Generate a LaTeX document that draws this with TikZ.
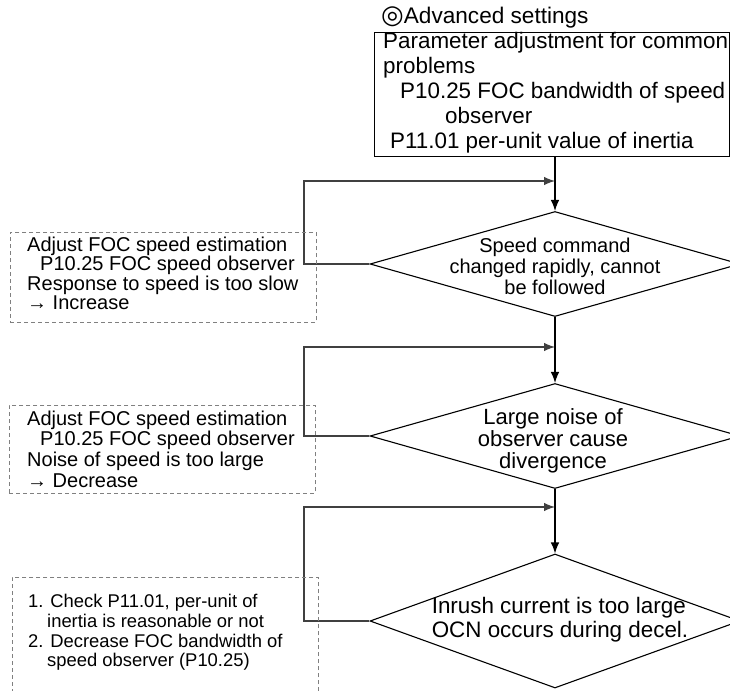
\documentclass[tikz,border=0pt]{standalone}
\usepackage{fontspec}
\setmainfont{Liberation Sans}
\newfontfamily\symfont{DejaVu Sans}
\usetikzlibrary{shapes.geometric,arrows.meta}

\tikzset{
  decision/.style={diamond, draw, line width=1.1pt, minimum width=370pt, inner sep=0pt},
  setbox/.style={draw, line width=1.2pt, minimum width=355pt, minimum height=124pt, anchor=north west, inner sep=0pt},
  hint/.style={draw=black!50, dash pattern=on 4pt off 3pt, line width=0.8pt, minimum width=306pt, anchor=north west, inner sep=0pt},
  txt/.style={inner sep=0pt, align=left, anchor=west},
  flow/.style={->, line width=1.1pt},
  loopline/.style={->, draw=black!75, line width=1.2pt},
}

\begin{document}
\begin{tikzpicture}[x=1pt, y=-1pt, >={Latex[length=11pt,width=8.5pt]}]
    \useasboundingbox (0,0) rectangle (730,690);
    \clip (0,0) rectangle (730,690);
    % Heading and parameter box
    \node[txt, font=\fontsize{22.6}{25}\selectfont] (head) at (381,17) {{\symfont\fontsize{26}{26}\selectfont ◎}Advanced settings};
    \node[setbox] (adv) at (374,32) {};
    \node[txt, anchor=north west, font=\fontsize{22.4}{25}\selectfont] (advtext) at (383,32.5)
        {Parameter adjustment for common\\problems\\\hspace*{17pt}P10.25 FOC bandwidth of speed\\\hspace*{62pt}observer\\\hspace*{7pt}P11.01 per-unit value of inertia};
    % Decisions
    \node[decision, minimum height=105pt] (d1) at (555,264) {};
    \node[decision, minimum height=105pt] (d2) at (555,436) {};
    \node[decision, minimum height=134pt] (d3) at (555,621) {};
    \node[align=center, inner sep=0pt, font=\fontsize{20}{21}\selectfont] (d1text) at (555,266) {Speed command\\changed rapidly, cannot\\be followed};
    \node[align=center, inner sep=0pt, font=\fontsize{22}{22}\selectfont] (d2text) at (553,441) {Large noise of\\observer cause\\divergence};
    \node[align=left, inner sep=0pt, font=\fontsize{22.4}{24}\selectfont] (d3text) at (560,620) {Inrush current is too large\\OCN occurs during decel.};
    % Main flow
    \draw[flow] (adv.south -| d1.north) -- (d1.north);
    \draw[flow] (d1.south) -- (d2.north);
    \draw[flow] (d2.south) -- (d3.north);
    % Loops back
    \coordinate (lx) at (304,0);
    \coordinate (j1) at (555,181);
    \coordinate (j2) at (555,347);
    \coordinate (j3) at (555,507);
    \draw[loopline] (d1.west) -- (d1.west -| lx) |- (j1);
    \draw[loopline] (d2.west) -- (d2.west -| lx) |- (j2);
    \draw[loopline] (d3.west) -- (d3.west -| lx) |- (j3);
    % Hints
    \node[hint, minimum height=90pt] (n1) at (10,232) {};
    \node[txt, font=\fontsize{20}{16.7}\selectfont] (n1text) at (27,273)
        {Adjust FOC speed estimation\\\hspace*{13pt}P10.25 FOC speed observer\\Response to speed is too slow\\→ Increase};
    \node[hint, minimum height=88pt] (n2) at (9,405) {};
    \node[txt, font=\fontsize{20}{20.6}\selectfont] (n2text) at (27,449)
        {Adjust FOC speed estimation\\\hspace*{13pt}P10.25 FOC speed observer\\Noise of speed is too large\\→ Decrease};
    \node[hint, minimum height=130pt] (n3) at (12,577) {};
    \node[txt, font=\fontsize{18.4}{19.6}\selectfont] (n3text) at (28,632.5)
        {1. Check P11.01, per-unit of\\\hspace*{19pt}inertia is reasonable or not\\2. Decrease FOC bandwidth of\\\hspace*{19pt}speed observer (P10.25)};
\end{tikzpicture}
\end{document}
